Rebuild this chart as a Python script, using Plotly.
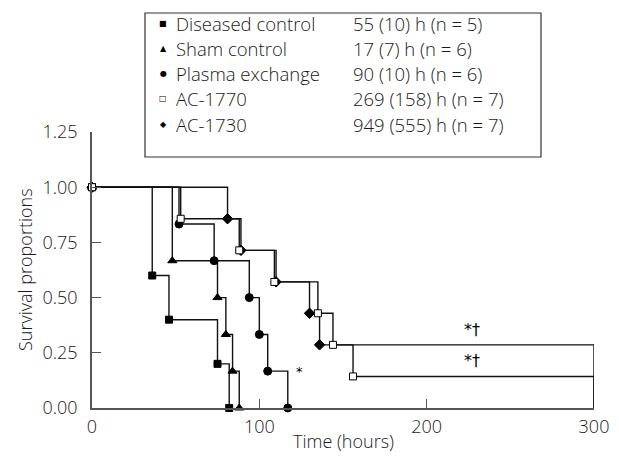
import plotly.graph_objects as go

# ---- data ----
dc_t = [0, 36, 46, 75, 82]
dc_s = [1.0, 0.6, 0.4, 0.2, 0.0]
sh_t = [0, 48, 75, 80, 84, 88]
sh_s = [1.0, 0.667, 0.5, 0.333, 0.167, 0.0]
pe_t = [0, 52, 73, 94, 100, 105, 117]
pe_s = [1.0, 0.833, 0.667, 0.5, 0.333, 0.167, 0.0]
a1730_t = [0, 81, 89, 110, 130, 136, 300]
a1730_s = [1.0, 0.857, 0.714, 0.571, 0.429, 0.286, 0.0]
a1770_t = [0, 53, 88, 109, 135, 144, 156, 300]
a1770_s = [1.0, 0.857, 0.714, 0.571, 0.429, 0.286, 0.143, 0.0]

group_names = ["Diseased control", "Sham control", "Plasma exchange", "AC-1770", "AC-1730"]
group_stats = ["55 (10) h (n = 5)", "17 (7) h (n = 6)", "90 (10) h (n = 6)",
               "269 (158) h (n = 7)", "949 (555) h (n = 7)"]
group_syms = ["\u25a0", "\u25b2", "\u25cf", "\u25a1", "\u25c6"]

x_ticks = [0, 100, 200, 300]
y_ticks = [0.0, 0.25, 0.5, 0.75, 1.0, 1.25]

FONT = "Open Sans"
INK = "#1a1a1a"
WT = 350

# plot area in pixels
L, R, T, B = 92, 594, 132, 408
PW, PH = R - L, B - T

def px(x):
    return (x - L) / PW

def py(y):
    return (B - y) / PH

fig = go.Figure()

def add_curve(t, s, symbol, size, fill, censored_end=False):
    sizes = [size] * len(t)
    if censored_end:
        sizes[-1] = 0
    fig.add_trace(go.Scatter(
        x=t, y=s, mode="lines+markers", line_shape="hv",
        line=dict(color="#111", width=1.4),
        marker=dict(symbol=symbol, size=sizes, color=fill, opacity=1,
                    line=dict(color="black", width=1)),
        cliponaxis=False, showlegend=False, hoverinfo="skip"))

add_curve(dc_t, dc_s, "square", 7, "black")
add_curve(sh_t, sh_s, "triangle-up", 8, "black")
add_curve(pe_t, pe_s, "circle", 8, "black")
add_curve(a1730_t, a1730_s, "diamond", 8, "black", censored_end=True)
add_curve(a1770_t, a1770_s, "square", 7, "white", censored_end=True)

# significance marks
SYMFONT = dict(family="DejaVu Sans", color="black", weight=400)
fig.add_annotation(x=124, y=0.165, text="*", showarrow=False,
                   xanchor="center", yanchor="middle",
                   font=dict(SYMFONT, size=13))
for yv in (0.355, 0.215):
    fig.add_annotation(x=227, y=yv, text="*\u2020", showarrow=False,
                       xanchor="center", yanchor="middle",
                       font=dict(SYMFONT, size=16))

# legend box
fig.add_shape(type="rect", xref="paper", yref="paper",
              x0=px(145), x1=px(541), y0=py(157), y1=py(13),
              line=dict(color="#333", width=1.2), fillcolor="white")
row_y = [23, 48, 74, 99, 124]
for i in range(len(group_names)):
    yp = py(row_y[i])
    fig.add_annotation(xref="paper", yref="paper", x=px(163), y=yp,
                       text=group_syms[i], showarrow=False,
                       xanchor="center", yanchor="middle",
                       font=dict(SYMFONT, size=8))
    fig.add_annotation(xref="paper", yref="paper", x=px(174), y=yp,
                       text=group_names[i], showarrow=False,
                       xanchor="left", yanchor="middle",
                       font=dict(family=FONT, size=18.5, color=INK, weight=WT))
    fig.add_annotation(xref="paper", yref="paper", x=px(351), y=yp,
                       text=group_stats[i], showarrow=False,
                       xanchor="left", yanchor="middle",
                       font=dict(family=FONT, size=18.5, color=INK, weight=WT))

# axis titles
fig.add_annotation(xref="paper", yref="paper", x=px(343), y=py(441),
                   text="Time (hours)", showarrow=False,
                   xanchor="center", yanchor="middle",
                   font=dict(family=FONT, size=18, color=INK, weight=WT))
fig.add_annotation(xref="paper", yref="paper", x=px(25), y=py(270),
                   text="Survival proportions", showarrow=False, textangle=-90,
                   xanchor="center", yanchor="middle",
                   font=dict(family=FONT, size=18, color=INK, weight=WT))

fig.update_layout(
    width=619, height=459,
    margin=dict(l=L, r=619 - R, t=T, b=459 - B, autoexpand=False),
    paper_bgcolor="white", plot_bgcolor="white",
    font=dict(family=FONT, size=18, color=INK, weight=WT),
    xaxis=dict(range=[0, 300], tickvals=x_ticks, ticks="inside", ticklen=9,
               tickcolor="#555", showline=True, linecolor="#555", linewidth=1.5,
               showgrid=False, zeroline=False, ticklabelstandoff=2,
               automargin=False,
               tickfont=dict(family=FONT, size=18, color=INK, weight=WT)),
    yaxis=dict(range=[0, 1.25], tickvals=y_ticks, tickformat=".2f",
               ticks="inside", ticklen=9, tickcolor="#555",
               showline=True, linecolor="#555", linewidth=1.5,
               showgrid=False, zeroline=False, ticklabelstandoff=9,
               automargin=False,
               tickfont=dict(family=FONT, size=18, color=INK, weight=WT)),
)

fig.write_html("out.html", config={"displayModeBar": False},
               post_script="document.body.style.margin='0';")
